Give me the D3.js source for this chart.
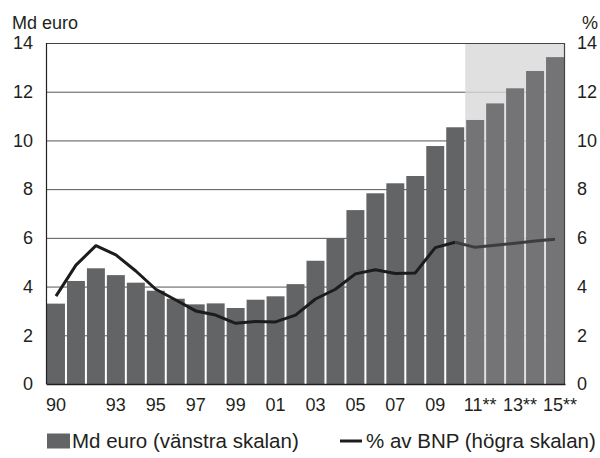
<!DOCTYPE html>
<html>
<head>
<meta charset="utf-8">
<script src="https://cdn.jsdelivr.net/npm/d3@7"></script>
<style>
  body { margin: 0; background: #fff; }
  svg text { font-family: "Liberation Sans", Arial, sans-serif; fill: #231f20; }
</style>
</head>
<body>
<svg id="chart" width="600" height="458"></svg>
<script>
// years 1990-2015, from 2011 forecast (**)
const years = [1990, 1991, 1992, 1993, 1994, 1995, 1996, 1997, 1998, 1999, 2000, 2001, 2002,
  2003, 2004, 2005, 2006, 2007, 2008, 2009, 2010, 2011, 2012, 2013, 2014, 2015];
const forecastFrom = 2011;

// Md euro (left scale)
const mdEuro = [3.30, 4.23, 4.75, 4.47, 4.16, 3.83, 3.50, 3.27, 3.31, 3.12, 3.46, 3.60, 4.10,
  5.06, 5.98, 7.14, 7.83, 8.24, 8.54, 9.77, 10.54, 10.84, 11.52, 12.14, 12.85, 13.42];

// % av BNP (right scale)
const pctBnp = [3.61, 4.88, 5.68, 5.30, 4.64, 3.89, 3.45, 3.00, 2.83, 2.49, 2.57, 2.55, 2.83,
  3.49, 3.89, 4.52, 4.69, 4.54, 4.56, 5.60, 5.82, 5.61, 5.70, 5.78, 5.87, 5.94];

const xTickYears = [1990, 1993, 1995, 1997, 1999, 2001, 2003, 2005, 2007, 2009, 2011, 2013, 2015];
const xTickLabels = ['90', '93', '95', '97', '99', '01', '03', '05', '07', '09', '11**', '13**', '15**'];
const yTicks = [0, 2, 4, 6, 8, 10, 12, 14];

const LEFT = 46, RIGHT = 565, TOP = 43, BOTTOM = 384;
const BAR = '#636466', BAR_FC = '#747477';

const svg = d3.select('#chart');

const x = d3.scaleBand()
  .domain(years)
  .range([LEFT, RIGHT])
  .paddingInner(0.1)
  .paddingOuter(0.05);

const yLeft = d3.scaleLinear().domain([0, 14]).range([BOTTOM, TOP]);
const yRight = d3.scaleLinear().domain([0, 14]).range([BOTTOM, TOP]);

// gridlines
svg.append('g')
  .selectAll('line')
  .data(yTicks.filter(t => t > 0 && t < 14))
  .join('line')
  .attr('x1', LEFT).attr('x2', RIGHT)
  .attr('y1', d => yLeft(d) + 0.5).attr('y2', d => yLeft(d) + 0.5)
  .attr('stroke', '#555')
  .attr('stroke-width', 1);

// forecast shading
const shadeX = x(forecastFrom) - x.step() * x.paddingInner() / 2;
svg.append('rect')
  .attr('x', shadeX)
  .attr('y', TOP)
  .attr('width', RIGHT - shadeX)
  .attr('height', BOTTOM - TOP)
  .attr('fill', '#d8d8da')
  .attr('fill-opacity', 0.8);

// bars
const rows = years.map((yr, i) => ({ yr, md: mdEuro[i], pct: pctBnp[i] }));

svg.append('g')
  .selectAll('rect')
  .data(rows)
  .join('rect')
  .attr('x', d => x(d.yr))
  .attr('y', d => yLeft(d.md))
  .attr('width', x.bandwidth())
  .attr('height', d => BOTTOM - yLeft(d.md))
  .attr('fill', d => d.yr >= forecastFrom ? BAR_FC : BAR);

// line
const line = d3.line()
  .x(d => x(d.yr) + x.bandwidth() / 2)
  .y(d => yRight(d.pct));

svg.append('path')
  .datum(rows.filter(d => d.yr <= forecastFrom - 1))
  .attr('d', line)
  .attr('fill', 'none')
  .attr('stroke', '#1c1c1c')
  .attr('stroke-width', 3)
  .attr('stroke-linejoin', 'round');

svg.append('path')
  .datum(rows.filter(d => d.yr >= forecastFrom - 1))
  .attr('d', line)
  .attr('fill', 'none')
  .attr('stroke', '#3d3d3f')
  .attr('stroke-width', 3)
  .attr('stroke-linejoin', 'round');

// frame
svg.append('line')
  .attr('x1', LEFT).attr('x2', RIGHT).attr('y1', TOP + 0.5).attr('y2', TOP + 0.5)
  .attr('stroke', '#444').attr('stroke-width', 1);
svg.append('line')
  .attr('x1', LEFT + 0.5).attr('x2', LEFT + 0.5).attr('y1', TOP).attr('y2', BOTTOM)
  .attr('stroke', '#231f20').attr('stroke-width', 1.2);
svg.append('line')
  .attr('x1', RIGHT - 0.5).attr('x2', RIGHT - 0.5).attr('y1', TOP).attr('y2', BOTTOM)
  .attr('stroke', '#444').attr('stroke-width', 1.2);

// left axis
const leftAxis = svg.append('g')
  .attr('transform', `translate(${LEFT},0)`)
  .call(d3.axisLeft(yLeft).tickValues(yTicks).tickSize(0).tickPadding(13));
leftAxis.select('.domain').remove();
leftAxis.selectAll('text')
  .attr('font-size', 18)
  .attr('font-family', '"Liberation Sans", Arial, sans-serif')
  .attr('fill', '#231f20');

// right axis
const rightAxis = svg.append('g')
  .attr('transform', `translate(${RIGHT},0)`)
  .call(d3.axisRight(yRight).tickValues(yTicks).tickSize(0).tickPadding(12));
rightAxis.select('.domain').remove();
rightAxis.selectAll('text')
  .attr('font-size', 18)
  .attr('font-family', '"Liberation Sans", Arial, sans-serif')
  .attr('fill', '#231f20');

// bottom axis
const bottomAxis = svg.append('g')
  .attr('transform', `translate(0,${BOTTOM})`)
  .call(d3.axisBottom(x)
    .tickValues(xTickYears)
    .tickFormat(d => xTickLabels[xTickYears.indexOf(d)])
    .tickSize(0)
    .tickPadding(14));
bottomAxis.select('.domain')
  .attr('stroke', '#231f20')
  .attr('stroke-width', 1.5);
bottomAxis.selectAll('text')
  .attr('font-size', 18)
  .attr('font-family', '"Liberation Sans", Arial, sans-serif')
  .attr('fill', '#231f20')
  .each(function (d) {
    const label = d3.select(this).text();
    if (!label.includes('**')) return;
    const t = d3.select(this).text(label.replace('**', ''));
    const w = this.getComputedTextLength();
    t.attr('text-anchor', 'start').attr('x', -w / 2 - 2);
    t.append('tspan').text('**');
  });

// axis titles
svg.append('text')
  .attr('x', 12).attr('y', 29)
  .attr('font-size', 18)
  .text('Md euro');
svg.append('text')
  .attr('x', 582).attr('y', 29)
  .attr('font-size', 18)
  .text('%');

// legend
const legend = svg.append('g');
legend.append('rect')
  .attr('x', 47).attr('y', 433.5)
  .attr('width', 23).attr('height', 15)
  .attr('fill', BAR);
legend.append('text')
  .attr('x', 72).attr('y', 448)
  .attr('font-size', 20.5)
  .text('Md euro (vänstra skalan)');
legend.append('line')
  .attr('x1', 340).attr('x2', 362)
  .attr('y1', 441).attr('y2', 441)
  .attr('stroke', '#1c1c1c')
  .attr('stroke-width', 3);
legend.append('text')
  .attr('x', 366).attr('y', 448)
  .attr('font-size', 20.5)
  .text('% av BNP (högra skalan)');
</script>
</body>
</html>
